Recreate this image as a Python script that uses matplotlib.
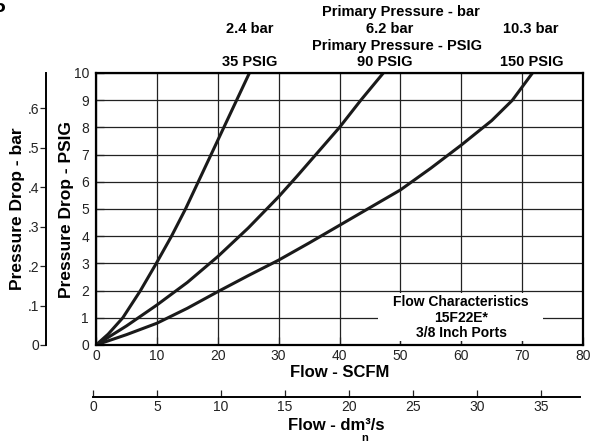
import matplotlib
matplotlib.use("Agg")
import matplotlib.pyplot as plt
from matplotlib.patches import Rectangle

plt.rcParams['font.family'] = ['Liberation Sans', 'DejaVu Sans']

# curves (flow SCFM, pressure drop PSIG)
flow_35 = [0, 2.0, 4.4, 7.3, 9.9, 12.4, 14.7, 16.8, 18.9, 21.0, 23.1, 25.2]
drop_35 = [0, 0.4, 1, 2, 3, 4, 5, 6, 7, 8, 9, 10]
flow_90 = [0, 5, 10, 15, 20, 25, 30, 33, 36.5, 40, 43.5, 47.2]
drop_90 = [0, 0.7, 1.47, 2.3, 3.25, 4.3, 5.45, 6.2, 7.1, 8, 9, 10]
flow_150 = [0, 5, 10, 15, 20, 25, 30, 35, 40, 45, 50, 55, 60, 65, 68.4, 71.7]
drop_150 = [0, 0.38, 0.8, 1.35, 1.96, 2.55, 3.12, 3.75, 4.4, 5.05, 5.7, 6.5, 7.35, 8.25, 9, 10]

psig_ticks = list(range(0, 11))
bar_ticks = [0, 0.1, 0.2, 0.3, 0.4, 0.5, 0.6]
bar_labels = ['0', '.1', '.2', '.3', '.4', '.5', '.6']
scfm_ticks = list(range(0, 81, 10))
dm3_ticks = list(range(0, 36, 5))

W, H = 594, 444
fig = plt.figure(figsize=(W / 100, H / 100), dpi=100)

def fx(px):
    return px / W

def fy(py):
    return 1 - py / H

# main chart
ax = fig.add_axes([fx(96), fy(345), fx(583) - fx(96), fy(73) - fy(345)])
for xs, ys in [(flow_35, drop_35), (flow_90, drop_90), (flow_150, drop_150)]:
    ax.plot(xs, ys, color='#1a1a1a', lw=2.2, solid_joinstyle='round', zorder=3)
ax.set_xlim(0, 80)
ax.set_ylim(0, 10)
ax.set_xticks(scfm_ticks)
ax.set_yticks(psig_ticks)
ax.grid(True, color='#222222', lw=0.9)
ax.tick_params(direction='in', length=6, width=0.9, labelsize=10, colors='#222222')
ax.tick_params(axis='x', pad=3)
ax.tick_params(axis='y', pad=5)
for s in ax.spines.values():
    s.set_linewidth(1.6)
    s.set_zorder(5)
ax.set_ylabel('Pressure Drop - PSIG', fontsize=12.5, fontweight='bold', labelpad=0)
ax.set_xlabel('Flow - SCFM', fontsize=12, fontweight='bold', labelpad=1)

# white label box over the grid
ax.add_patch(Rectangle((46.4, 0.16), 27.1, 1.76, facecolor='white', edgecolor='none', zorder=2))
ax.text(60, 1.0, 'Flow Characteristics\n15F22E*\n3/8 Inch Ports', ha='center', va='center',
        fontsize=10, fontweight='bold', linespacing=1.15, zorder=4)

# secondary bar scale on the left
axb = fig.add_axes([fx(46), fy(345), 0.001, fy(73) - fy(345)])
axb.set_ylim(0, 10 / 14.5038)
axb.set_yticks(bar_ticks)
axb.set_yticklabels(bar_labels)
axb.set_xticks([])
for k in ['top', 'right', 'bottom']:
    axb.spines[k].set_visible(False)
axb.spines['left'].set_linewidth(1.4)
axb.patch.set_visible(False)
axb.tick_params(axis='y', direction='out', length=4, width=0.9, labelsize=10, pad=1, colors='#222222')
axb.set_ylabel('Pressure Drop - bar', fontsize=12.5, fontweight='bold', labelpad=2)

# secondary flow scale at the bottom
axd = fig.add_axes([fx(93), fy(397), fx(580) - fx(93), 0.001])
axd.set_xlim(0, 38.05)
axd.set_xticks(dm3_ticks)
axd.set_yticks([])
for k in ['top', 'right', 'left']:
    axd.spines[k].set_visible(False)
axd.spines['bottom'].set_linewidth(1.4)
axd.patch.set_visible(False)
axd.tick_params(axis='x', direction='in', length=5, width=0.9, labelsize=10, pad=2, colors='#222222')
axd.set_xlabel('Flow - dm\u00b3/s', fontsize=12, fontweight='bold', labelpad=3)
fig.text(fx(365), fy(438), 'n', fontsize=8, fontweight='bold', ha='center', va='center')

# header texts
hdr = dict(fontsize=10.5, fontweight='bold', ha='center', va='center')
fig.text(fx(401), fy(12), 'Primary Pressure - bar', **hdr)
fig.text(fx(250), fy(29), '2.4 bar', **hdr)
fig.text(fx(390), fy(29), '6.2 bar', **hdr)
fig.text(fx(531), fy(29), '10.3 bar', **hdr)
fig.text(fx(397), fy(46), 'Primary Pressure - PSIG', **hdr)
fig.text(fx(250), fy(62), '35 PSIG', **hdr)
fig.text(fx(385), fy(62), '90 PSIG', **hdr)
fig.text(fx(532), fy(62), '150 PSIG', **hdr)
fig.text(fx(-7), fy(6), '5', fontsize=15, fontweight='bold', ha='left', va='center')

fig.savefig('out.png', dpi=100)
